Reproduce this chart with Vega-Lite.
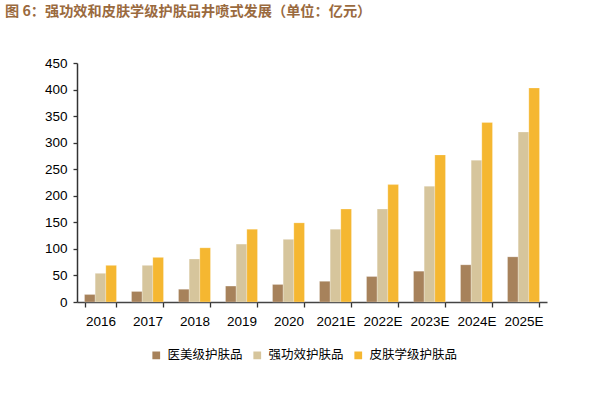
{
  "$schema": "https://vega.github.io/schema/vega-lite/v6.json",
  "width": 470,
  "height": 239,
  "autosize": {"type": "none"},
  "padding": {"left": 77, "top": 63, "right": 53, "bottom": 98},
  "background": "white",
  "title": {
    "text": "图 6：强功效和皮肤学级护肤品井喷式发展（单位：亿元）",
    "anchor": "start",
    "frame": "group",
    "orient": "top",
    "offset": 0,
    "dx": -72,
    "dy": -37,
    "font": "Noto Sans CJK SC",
    "fontSize": 14.2,
    "fontWeight": "bold",
    "color": "#9A6A3E"
  },
  "data": {
    "values": [
      {"year": "2016", "type": "医美级护肤品", "value": 14},
      {"year": "2016", "type": "强功效护肤品", "value": 54},
      {"year": "2016", "type": "皮肤学级护肤品", "value": 69},
      {"year": "2017", "type": "医美级护肤品", "value": 20},
      {"year": "2017", "type": "强功效护肤品", "value": 69},
      {"year": "2017", "type": "皮肤学级护肤品", "value": 84},
      {"year": "2018", "type": "医美级护肤品", "value": 24},
      {"year": "2018", "type": "强功效护肤品", "value": 81},
      {"year": "2018", "type": "皮肤学级护肤品", "value": 102},
      {"year": "2019", "type": "医美级护肤品", "value": 30},
      {"year": "2019", "type": "强功效护肤品", "value": 109},
      {"year": "2019", "type": "皮肤学级护肤品", "value": 137},
      {"year": "2020", "type": "医美级护肤品", "value": 33},
      {"year": "2020", "type": "强功效护肤品", "value": 118},
      {"year": "2020", "type": "皮肤学级护肤品", "value": 149},
      {"year": "2021E", "type": "医美级护肤品", "value": 39},
      {"year": "2021E", "type": "强功效护肤品", "value": 137},
      {"year": "2021E", "type": "皮肤学级护肤品", "value": 175},
      {"year": "2022E", "type": "医美级护肤品", "value": 48},
      {"year": "2022E", "type": "强功效护肤品", "value": 175},
      {"year": "2022E", "type": "皮肤学级护肤品", "value": 221},
      {"year": "2023E", "type": "医美级护肤品", "value": 58},
      {"year": "2023E", "type": "强功效护肤品", "value": 218},
      {"year": "2023E", "type": "皮肤学级护肤品", "value": 277},
      {"year": "2024E", "type": "医美级护肤品", "value": 70},
      {"year": "2024E", "type": "强功效护肤品", "value": 267},
      {"year": "2024E", "type": "皮肤学级护肤品", "value": 338},
      {"year": "2025E", "type": "医美级护肤品", "value": 85},
      {"year": "2025E", "type": "强功效护肤品", "value": 320},
      {"year": "2025E", "type": "皮肤学级护肤品", "value": 403}
    ]
  },
  "mark": {"type": "bar", "stroke": "#ffffff", "strokeWidth": 0.4, "strokeOpacity": 0.6},
  "encoding": {
    "x": {
      "field": "year",
      "type": "nominal",
      "sort": null,
      "title": null,
      "scale": {"paddingInner": 0.32, "paddingOuter": 0.16},
      "axis": {
        "labelAngle": 0,
        "labelFont": "Liberation Sans, Arial, sans-serif",
        "labelFontSize": 13.5,
        "labelColor": "#000000",
        "labelPadding": 7,
        "tickBand": "extent",
        "tickExtra": true,
        "tickSize": 5,
        "tickColor": "#333333",
        "tickWidth": 1.3,
        "domainColor": "#444444",
        "domainWidth": 1.5
      }
    },
    "xOffset": {
      "field": "type",
      "type": "nominal",
      "sort": ["医美级护肤品", "强功效护肤品", "皮肤学级护肤品"],
      "scale": {"paddingInner": 0, "paddingOuter": 0}
    },
    "y": {
      "field": "value",
      "type": "quantitative",
      "title": null,
      "scale": {"domain": [0, 450], "nice": false},
      "axis": {
        "values": [0, 50, 100, 150, 200, 250, 300, 350, 400, 450],
        "grid": false,
        "labelFont": "Liberation Sans, Arial, sans-serif",
        "labelFontSize": 13.5,
        "labelColor": "#000000",
        "labelPadding": 6,
        "tickSize": 4,
        "tickColor": "#333333",
        "tickWidth": 1.3,
        "domainColor": "#333333",
        "domainWidth": 1.5
      }
    },
    "color": {
      "field": "type",
      "type": "nominal",
      "sort": ["医美级护肤品", "强功效护肤品", "皮肤学级护肤品"],
      "scale": {
        "domain": ["医美级护肤品", "强功效护肤品", "皮肤学级护肤品"],
        "range": ["#A7825B", "#D6C59C", "#F5B731"]
      },
      "legend": {
        "title": null,
        "orient": "none",
        "direction": "horizontal",
        "legendX": 73,
        "legendY": 286,
        "symbolType": "square",
        "symbolSize": 60,
        "symbolStrokeWidth": 0,
        "labelFont": "Noto Sans CJK SC",
        "labelFontSize": 12.5,
        "labelColor": "#000000",
        "labelOffset": 5,
        "columnPadding": 8
      }
    }
  },
  "config": {
    "view": {"stroke": null}
  }
}
